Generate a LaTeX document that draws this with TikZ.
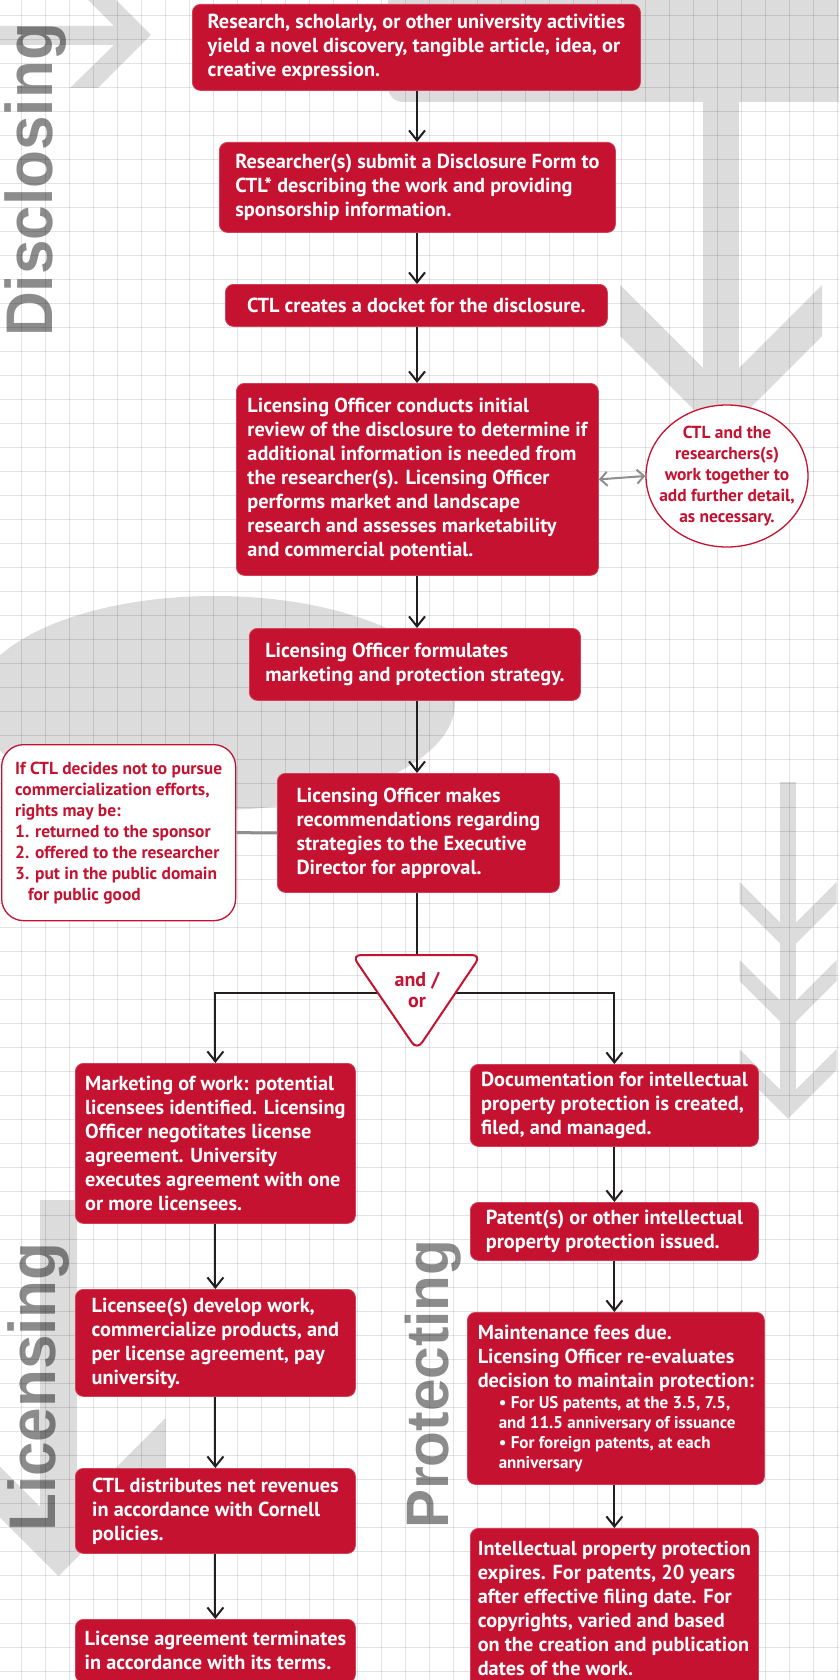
\documentclass[tikz,border=0pt]{standalone}
\usepackage{fontspec}
\setmainfont{PT Sans}
\newfontfamily\lblfont{Liberation Sans}
\usetikzlibrary{arrows.meta,shapes.geometric}
\definecolor{cred}{HTML}{C41230}
\definecolor{shapegray}{HTML}{DCDCDC}
\definecolor{lineblack}{HTML}{231F20}
\definecolor{linkgray}{HTML}{8E8E8E}
\begin{document}
\begin{tikzpicture}[x=1pt,y=-1pt,
  redbox/.style={draw=cred!80!white, line width=0.8pt, fill=cred, rounded corners=8pt,
    text=white, font=\fontsize{20.3}{24}\selectfont\bfseries, align=left,
    inner sep=0pt, anchor=north west},
  whitebox/.style={draw=cred, line width=1.3pt, fill=white, text=cred,
    font=\fontsize{17.4}{21}\selectfont\bfseries, inner sep=0pt},
  flow/.style={draw=lineblack, line width=2pt, -{Straight Barb[length=10pt,width=16pt]}},
  plainflow/.style={draw=lineblack, line width=2pt},
  graylink/.style={draw=linkgray, line width=2pt},
  gridline/.style={draw=black, draw opacity=0.11, line width=1pt},
  graylbl/.style={text=black, text opacity=0.45, inner sep=0pt, rotate=90, anchor=base west}
]
\useasboundingbox (0,0) rectangle (839,1680);
\clip (0,0) rectangle (839,1680);
\fill[white] (0,0) rectangle (839,1680);

% decorative gray shapes
\fill[shapegray] (0,26) -- (114,26) -- (78,-10) -- (106,-10) -- (151,35) -- (98,88) -- (70,88) -- (114,45) -- (0,45) -- cycle;
\fill[shapegray, rounded corners=15pt] (388,-30) -- (388,102) -- (870,102) -- (870,-30) -- cycle;
\fill[shapegray] (703,90) rectangle (739,390);
\fill[shapegray] (620,285) -- (620,336) -- (721,437) -- (822,336) -- (822,285) -- (721,386) -- cycle;
\fill[shapegray] (215,703) ellipse [x radius=240, y radius=107];
\fill[shapegray] (780,782) rectangle (796,1100);
\foreach \t in {882,960,1049}{
  \fill[shapegray] (739.5,\t) -- (739.5,{\t+21}) -- (788,{\t+69.5}) -- (836.5,{\t+21}) -- (836.5,\t) -- (788,{\t+48.5}) -- cycle;
}
\fill[shapegray] (40,1200) rectangle (77,1530);
\fill[shapegray] (-48.5,1418) -- (-48.5,1469) -- (58.5,1576) -- (165.5,1469) -- (165.5,1418) -- (58.5,1525) -- cycle;

% grid
\foreach \i in {0,...,34} \draw[gridline] ({21.7+24*\i},0) -- ({21.7+24*\i},1680);
\foreach \i in {0,...,69} \draw[gridline] (0,{15.3+24*\i}) -- (839,{15.3+24*\i});

% section labels
\node[graylbl, xscale=0.94, font=\lblfont\bfseries\fontsize{66}{66}\selectfont] (tdisc) at (52,337) {Disclosing};
\node[graylbl, xscale=0.94, font=\lblfont\bfseries\fontsize{66}{66}\selectfont] (tlic) at (55,1532) {Licensing};
\node[graylbl, xscale=0.975, font=\lblfont\bfseries\fontsize{60}{60}\selectfont] (tprot) at (448,1529) {Protecting};

% boxes
\node[redbox, minimum width=448, minimum height=86] (b1) at (192,4)
  {Research, scholarly, or other university activities\\yield a novel discovery, tangible article, idea, or\\creative expression.};
\node[redbox, minimum width=396, minimum height=90] (b2) at (219,142)
  {Researcher(s) submit a Disclosure Form to\\CTL* describing the work and providing\\sponsorship information.};
\node[redbox, minimum width=382, minimum height=42, align=center] (b3) at (225,284)
  {CTL creates a docket for the disclosure.};
\node[redbox, minimum width=362, minimum height=192] (b4) at (236,383)
  {Licensing Officer conducts initial\\review of the disclosure to determine if\\additional information is needed from\\the researcher(s). Licensing Officer\\performs market and landscape\\research and assesses marketability\\and commercial potential.};
\node[redbox, minimum width=331, minimum height=72] (b5) at (249,628)
  {Licensing Officer formulates\\marketing and protection strategy.};
\node[redbox, minimum width=282, minimum height=119] (b6) at (277,773)
  {Licensing Officer makes\\recommendations regarding\\strategies to the Executive\\Director for approval.};
\node[redbox, minimum width=280, minimum height=160] (b7) at (75,1063)
  {Marketing of work: potential\\licensees identified. Licensing\\Officer negotitates license\\agreement. University\\executes agreement with one\\or more licensees.};
\node[redbox, minimum width=288, minimum height=82] (b8) at (470,1064)
  {Documentation for intellectual\\property protection is created,\\filed, and managed.};
\node[redbox, minimum width=280, minimum height=107] (b9) at (75,1289)
  {Licensee(s) develop work,\\commercialize products, and\\per license agreement, pay\\university.};
\node[redbox, minimum width=288, minimum height=58] (b10) at (470,1202)
  {Patent(s) or other intellectual\\property protection issued.};
\node[redbox, minimum width=297, minimum height=172] (b11) at (467,1312)
  {Maintenance fees due.\\Licensing Officer re-evaluates\\decision to maintain protection:\\[-3pt]
   \hspace*{21pt}{\fontsize{17}{21}\selectfont • For US patents, at the 3.5, 7.5,}\\[-4pt]
   \hspace*{21pt}{\fontsize{17}{21}\selectfont and 11.5 anniversary of issuance}\\[-4pt]
   \hspace*{21pt}{\fontsize{17}{21}\selectfont • For foreign patents, at each}\\[-4pt]
   \hspace*{21pt}{\fontsize{17}{21}\selectfont anniversary}};
\node[redbox, minimum width=288, minimum height=160] (b12) at (470,1528)
  {Intellectual property protection\\expires. For patents, 20 years\\after effective filing date. For\\copyrights, varied and based\\on the creation and publication\\dates of the work.};
\node[redbox, minimum width=280, minimum height=85] (b13) at (75,1468)
  {CTL distributes net revenues\\in accordance with Cornell\\policies.};
\node[redbox, minimum width=280, minimum height=63] (b14) at (75,1619)
  {License agreement terminates\\in accordance with its terms.};

% side notes
\node[whitebox, ellipse, inner xsep=-14pt, inner ysep=-5pt, minimum width=162, minimum height=142, align=center] (circ) at (727,476)
  {CTL and the\\researchers(s)\\work together to\\add further detail,\\as necessary.};
\node[whitebox, rounded corners=22pt, minimum width=234, minimum height=176, anchor=north west, align=left] (ifbox) at (1,744)
  {If CTL decides not to pursue\\commercialization efforts,\\rights may be:\\1. returned to the sponsor\\2. offered to the researcher\\3. put in the public domain\\\hspace*{13pt}for public good};

% connectors
\coordinate (spine) at (417,0);
\draw[flow] (b1.south -| spine) -- (b2.north -| spine);
\draw[flow] (b2.south -| spine) -- (b3.north -| spine);
\draw[flow] (b3.south -| spine) -- (b4.north -| spine);
\draw[flow] (b4.south -| spine) -- (b5.north -| spine);
\draw[flow] (b5.south -| spine) -- (b6.north -| spine);
\draw[graylink, {Straight Barb[length=7pt,width=14pt]}-{Straight Barb[length=7pt,width=14pt]}] (b4.east) -- (circ.west);
\draw[graylink, line width=3pt] (ifbox.east) -- (b6.west);

\coordinate (tritop) at (417,955);
\coordinate (trimid) at (417,993);
\draw[plainflow] (b6.south -| spine) -- (tritop);
\draw[flow] (trimid) -| (b7.north);
\draw[flow] (trimid) -| (b8.north);
\draw[flow] (b7.south) -- (b9.north);
\draw[flow] (b9.south) -- (b13.north);
\draw[flow] (b13.south) -- (b14.north);
\draw[flow] (b8.south) -- (b10.north);
\draw[flow] (b10.south) -- (b11.north -| b10.south);
\draw[flow] (b11.south -| b10.south) -- (b12.north);

% and/or triangle
\draw[draw=cred, line width=2pt, fill=white, rounded corners=9pt] (352,955) -- (481,955) -- (417,1050) -- cycle;
\node[text=cred, font=\fontsize{20}{21}\selectfont\bfseries, align=center, inner sep=0pt] (andor) at (417,990) {and /\\or};
\end{tikzpicture}
\end{document}
